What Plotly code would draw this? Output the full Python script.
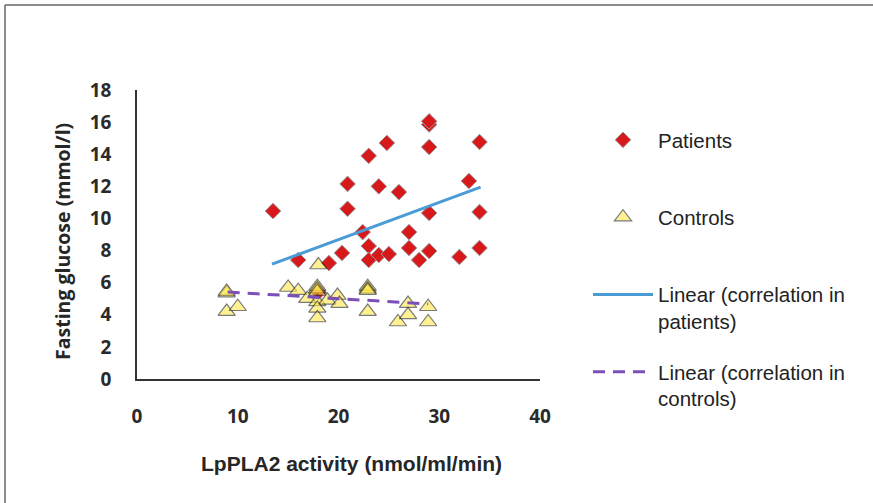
import plotly.graph_objects as go

# ---- data ----
patients_x = [13.5, 16.0, 19.05, 20.35, 20.9, 20.9, 22.4, 23.0, 23.0, 23.0, 24.0, 24.0, 24.8, 25.0,
              26.0, 27.0, 27.0, 28.0, 29.0, 29.0, 29.0, 29.0, 29.0, 32.0, 32.95, 34.0, 34.0, 34.0, 18.0]
patients_y = [10.46, 7.41, 7.22, 7.85, 12.15, 10.6, 9.15, 13.9, 8.28, 7.41, 12.0, 7.72, 14.7, 7.78,
              11.64, 9.15, 8.16, 7.41, 7.97, 10.34, 14.45, 15.85, 16.05, 7.6, 12.33, 14.76, 10.4, 8.16, 5.4]

controls_x = [8.9, 8.9, 8.9, 10.0, 15.0, 16.0, 16.9, 17.9, 17.9, 17.9, 17.9, 17.9, 17.9, 18.0,
              18.9, 19.9, 20.1, 22.9, 22.9, 22.9, 22.9, 25.9, 26.9, 26.9, 28.9, 28.9]
controls_y = [5.35, 5.45, 4.2, 4.5, 5.7, 5.5, 5.0, 5.75, 5.6, 5.45, 4.8, 4.4, 3.8, 7.1,
              4.9, 5.2, 4.7, 5.75, 5.6, 5.5, 4.2, 3.55, 4.7, 4.0, 4.5, 3.55]

# linear trend lines (end points as drawn in the reference)
pat_fit_x = [13.4, 34.1]
pat_fit_y = [7.15, 11.95]
ctl_fit_x = [9.0, 28.9]
ctl_fit_y = [5.42, 4.67]

x_ticks = [0, 10, 20, 30, 40]
y_ticks = [0, 2, 4, 6, 8, 10, 12, 14, 16, 18]

series_names = ["Patients", "Controls",
                "Linear (correlation in<br>patients)",
                "Linear (correlation in<br>controls)"]
x_title = "LpPLA2 activity (nmol/ml/min)"
y_title = "Fasting glucose (mmol/l)"

fig = go.Figure()

fig.add_trace(go.Scatter(
    x=patients_x, y=patients_y, mode="markers", name=series_names[0] + "<br> ",
    legendgroup="a",
    marker=dict(symbol="diamond", size=12, color="#d7191c",
                line=dict(color="#9a9a9a", width=1)),
))
fig.add_trace(go.Scatter(
    x=controls_x, y=controls_y, mode="markers", name=series_names[1] + "<br> ",
    legendgroup="b",
    marker=dict(symbol="triangle-up", size=15, color="#ffe94a", opacity=0.6,
                line=dict(color="#222222", width=1.2)),
))
fig.add_trace(go.Scatter(
    x=pat_fit_x, y=pat_fit_y, mode="lines", name=series_names[2],
    legendgroup="c",
    line=dict(color="#4a9bd6", width=3),
))
fig.add_trace(go.Scatter(
    x=ctl_fit_x, y=ctl_fit_y, mode="lines", name=series_names[3],
    legendgroup="d",
    line=dict(color="#7b4fb8", width=3, dash="12px,8px"),
))

W, H = 873, 503
L, R, T, B = 137, 333, 90, 124
pw, ph = W - L - R, H - T - B

def px_x(p):
    return (p - L) / pw

def px_y(p):
    return (H - B - p) / ph

tickfont = dict(family="Open Sans, Lato, sans-serif", size=19, color="#2a2a2a")

fig.update_layout(
    width=W, height=H,
    margin=dict(l=L, r=R, t=T, b=B, autoexpand=False),
    paper_bgcolor="white", plot_bgcolor="white",
    showlegend=True,
    legend=dict(
        x=px_x(588), y=px_y(120), xanchor="left", yanchor="top",
        font=dict(family="Liberation Sans, Arial, sans-serif", size=20.5, color="#222222"),
        tracegroupgap=21, valign="top", itemwidth=60, maxheight=1000,
        bgcolor="rgba(0,0,0,0)",
    ),
    xaxis=dict(
        range=[0, 40], tickvals=x_ticks, ticktext=["<b>%d</b>" % v for v in x_ticks],
        showgrid=False, zeroline=False, showline=True, linecolor="#333333", linewidth=1.5,
        ticks="", tickfont=tickfont, ticklabelstandoff=19, fixedrange=True,
    ),
    yaxis=dict(
        range=[0, 18], tickvals=y_ticks, ticktext=["<b>%d</b>" % v for v in y_ticks],
        showgrid=False, zeroline=False, showline=True, linecolor="#333333", linewidth=1.5,
        ticks="", tickfont=tickfont, ticklabelstandoff=20, fixedrange=True,
    ),
    annotations=[
        dict(text="<b>" + x_title + "</b>", xref="paper", yref="paper",
             x=px_x(351), y=px_y(463), xanchor="center", yanchor="middle", showarrow=False,
             font=dict(family="Liberation Sans, Arial, sans-serif", size=21, color="#262626")),
        dict(text="<b>" + y_title + "</b>", xref="paper", yref="paper",
             x=px_x(62), y=px_y(242), xanchor="center", yanchor="middle", showarrow=False,
             textangle=-90,
             font=dict(family="Open Sans, Lato, sans-serif", size=19.5, color="#262626")),
    ],
    shapes=[
        dict(type="line", xref="paper", yref="paper",
             x0=px_x(5), x1=px_x(1500), y0=px_y(5), y1=px_y(5),
             line=dict(color="#666666", width=1.5), layer="below"),
        dict(type="line", xref="paper", yref="paper",
             x0=px_x(5), x1=px_x(5), y0=px_y(5), y1=px_y(1500),
             line=dict(color="#666666", width=1.5), layer="below"),
    ],
)

fig.write_html("out.html")
